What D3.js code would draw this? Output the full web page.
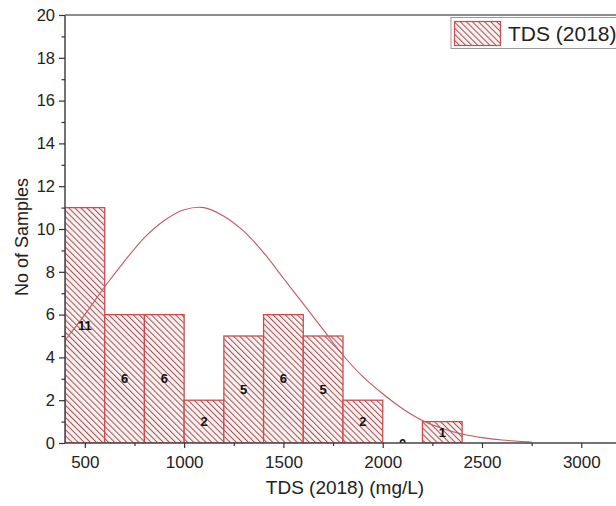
<!DOCTYPE html>
<html>
<head>
<meta charset="utf-8">
<script src="https://cdn.jsdelivr.net/npm/d3@7/dist/d3.min.js"></script>
<style>
  body { margin: 0; background: #fff; }
  svg { font-family: "Liberation Sans", Arial, sans-serif; display: block; }
</style>
</head>
<body>
<div id="canvas"></div>
<script>
// histogram bins (mg/L) and counts
const binEdges = [400, 600, 800, 1000, 1200, 1400, 1600, 1800, 2000, 2200, 2400];
const counts = [11, 6, 6, 2, 5, 6, 5, 2, 0, 1];

// fitted curve
const curveX = [400, 500, 600, 700, 800, 900, 1000, 1100, 1200, 1300, 1400, 1500, 1600,
                1700, 1800, 1900, 2000, 2100, 2200, 2300, 2400, 2500, 2600, 2700, 2750];
const curveY = [4.8, 6.0, 7.3, 8.5, 9.6, 10.4, 10.9, 11.0, 10.6, 9.9, 8.9, 7.7, 6.5,
                5.3, 4.1, 3.1, 2.3, 1.6, 1.05, 0.68, 0.42, 0.25, 0.14, 0.07, 0.05];

const xTicks = [500, 1000, 1500, 2000, 2500, 3000];
const xMinor = [750, 1250, 1750, 2250, 2750];
const yTicks = [0, 2, 4, 6, 8, 10, 12, 14, 16, 18, 20];
const yMinor = [1, 3, 5, 7, 9, 11, 13, 15, 17, 19];

const W = 616, H = 506;
const pL = 65, pT = 15, pB = 443, pR = 621;

const svg = d3.select("#canvas").append("svg")
    .attr("width", W)
    .attr("height", H);

const x = d3.scaleLinear().domain([400, 3200]).range([pL, pR]);
const y = d3.scaleLinear().domain([0, 20]).range([pB, pT]);

// hatch pattern
const defs = svg.append("defs");
const pat = defs.append("pattern")
    .attr("id", "hatch")
    .attr("patternUnits", "userSpaceOnUse")
    .attr("width", 4.3)
    .attr("height", 10)
    .attr("patternTransform", "rotate(-45)");
pat.append("rect").attr("width", 4.3).attr("height", 10).attr("fill", "#fcf0f0");
pat.append("line")
    .attr("x1", 0.5).attr("y1", 0).attr("x2", 0.5).attr("y2", 10)
    .attr("stroke", "#9a5454")
    .attr("stroke-width", 1);

defs.append("clipPath").attr("id", "plot")
    .append("rect")
    .attr("x", pL).attr("y", pT)
    .attr("width", pR - pL).attr("height", pB - pT);

const bins = counts.map((c, i) => ({ x0: binEdges[i], x1: binEdges[i + 1], n: c }));

const plot = svg.append("g").attr("clip-path", "url(#plot)");

plot.selectAll("rect.bar")
    .data(bins.filter(d => d.n > 0))
    .join("rect")
    .attr("class", "bar")
    .attr("x", d => x(d.x0))
    .attr("y", d => y(d.n))
    .attr("width", d => x(d.x1) - x(d.x0))
    .attr("height", d => y(0) - y(d.n))
    .attr("fill", "url(#hatch)")
    .attr("stroke", "#d6474c")
    .attr("stroke-width", 1.3);

const line = d3.line()
    .x((d, i) => x(curveX[i]))
    .y(d => y(d))
    .curve(d3.curveCatmullRom);

plot.append("path")
    .datum(curveY)
    .attr("d", line)
    .attr("fill", "none")
    .attr("stroke", "#c25a5e")
    .attr("stroke-width", 1.1);

plot.selectAll("text.lab")
    .data(bins)
    .join("text")
    .attr("class", "lab")
    .attr("x", d => x((d.x0 + d.x1) / 2))
    .attr("y", d => y(d.n / 2))
    .attr("dy", "0.36em")
    .attr("text-anchor", "middle")
    .attr("font-size", 13)
    .attr("font-weight", "bold")
    .attr("fill", "#111")
    .text(d => d.n);

// axes
const xAxis = svg.append("g")
    .attr("transform", `translate(0,${pB})`)
    .call(d3.axisBottom(x).tickValues(xTicks).tickSize(5).tickPadding(8).tickFormat(d3.format("d")));
svg.append("g")
    .attr("transform", `translate(0,${pB})`)
    .call(d3.axisBottom(x).tickValues(xMinor).tickSize(3).tickFormat(""))
    .call(g => g.select(".domain").remove());

const yAxis = svg.append("g")
    .attr("transform", `translate(${pL},0)`)
    .call(d3.axisLeft(y).tickValues(yTicks).tickSize(6).tickPadding(4));
svg.append("g")
    .attr("transform", `translate(${pL},0)`)
    .call(d3.axisLeft(y).tickValues(yMinor).tickSize(3.5).tickFormat(""))
    .call(g => g.select(".domain").remove());

svg.selectAll(".domain").attr("stroke", "#444").attr("stroke-width", 1.5);
svg.selectAll(".tick line").attr("stroke", "#333").attr("stroke-width", 1.2);
xAxis.selectAll(".tick text").attr("font-size", 17).attr("fill", "#222");
yAxis.selectAll(".tick text").attr("font-size", 16.5).attr("fill", "#222");

// straight axis lines without end caps
xAxis.select(".domain").attr("d", `M${pL},0H${W}`);
yAxis.select(".domain").attr("d", `M0,${pT}V${pB}`);

// top frame line
svg.append("line")
    .attr("x1", pL).attr("x2", W)
    .attr("y1", pT).attr("y2", pT)
    .attr("stroke", "#666")
    .attr("stroke-width", 1.5);

// axis titles
svg.append("text")
    .attr("transform", `translate(27.5,${(pT + pB) / 2 + 8}) rotate(-90)`)
    .attr("text-anchor", "middle")
    .attr("font-size", 18)
    .attr("fill", "#222")
    .text("No of Samples");

svg.append("text")
    .attr("x", 345)
    .attr("y", 494)
    .attr("text-anchor", "middle")
    .attr("font-size", 19)
    .attr("fill", "#222")
    .text("TDS (2018) (mg/L)");

// legend
const lg = svg.append("g");
lg.append("rect")
    .attr("x", 451).attr("y", 17.5)
    .attr("width", 180).attr("height", 31)
    .attr("fill", "#fff")
    .attr("stroke", "#999")
    .attr("stroke-width", 1);
lg.append("rect")
    .attr("x", 454.5).attr("y", 21.5)
    .attr("width", 46).attr("height", 24)
    .attr("fill", "url(#hatch)")
    .attr("stroke", "#d6474c")
    .attr("stroke-width", 1.2);
lg.append("text")
    .attr("x", 508).attr("y", 41)
    .attr("font-size", 21)
    .attr("fill", "#222")
    .text("TDS (2018)");
</script>
</body>
</html>
